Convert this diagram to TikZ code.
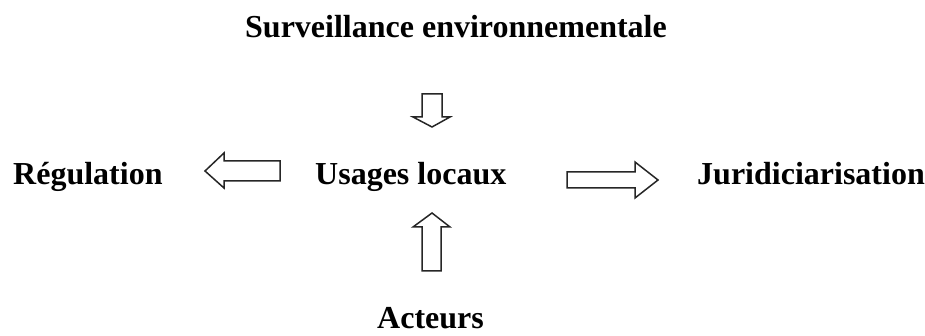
\documentclass[tikz,border=0pt]{standalone}
\usepackage{fontspec}
\setmainfont{Liberation Serif}
\usepackage{tikz}

\begin{document}
\begin{tikzpicture}[x=1pt,y=-1pt,
    label/.style={anchor=base west,inner sep=0pt,font=\fontsize{32}{36}\selectfont\bfseries},
    hollow/.style={draw=black!85,line width=1.5pt,line join=miter,fill=white}]
    \useasboundingbox (0,0) rectangle (925,336);

    \node[label] (surv)  at (245,38)  {Surveillance environnementale};
    \node[label] (regl)  at (13,185)  {Régulation};
    \node[label] (usag)  at (315,185) {Usages locaux};
    \node[label] (jurid) at (697,185) {Juridiciarisation};
    \node[label] (act)   at (377,328) {Acteurs};

    % down, from the top label
    \draw[hollow] (422,94) -- (442,94) -- (442,117) -- (450,117) -- (432,127)
                  -- (413,117) -- (422,117) -- cycle;
    % up, from the actors
    \draw[hollow] (422,271) -- (441,271) -- (441,227) -- (450,227) -- (432,213)
                  -- (413,227) -- (422,227) -- cycle;
    % left, towards regulation
    \draw[hollow] (280,161) -- (280,181) -- (224,181) -- (224,188) -- (205,171)
                  -- (224,153) -- (224,161) -- cycle;
    % right, towards the courts
    \draw[hollow] (567,172) -- (635,172) -- (635,162) -- (658,180) -- (635,198)
                  -- (635,188) -- (567,188) -- cycle;
\end{tikzpicture}
\end{document}
